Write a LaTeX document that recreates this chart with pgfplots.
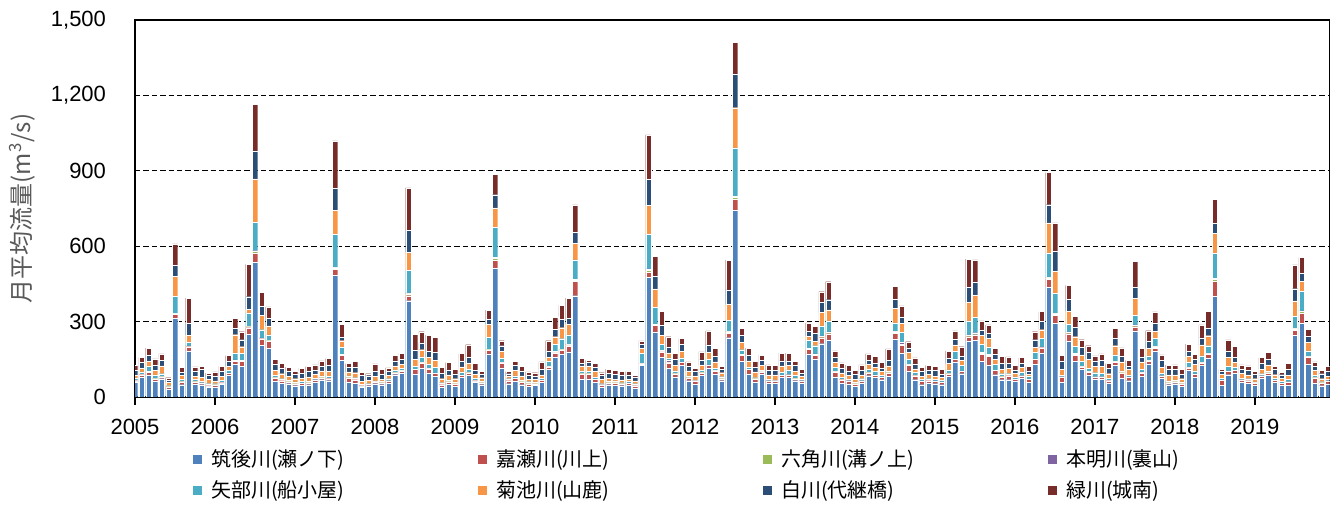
\documentclass[border=0pt]{standalone}
\usepackage{fontspec}
\setmainfont{Liberation Sans}
\newfontfamily\jp{Noto Sans CJK JP}
\usepackage{pgfplots}
\usepackage{pgfplotstable}
\pgfplotsset{compat=1.18}
\definecolor{cB}{HTML}{4F81BD}
\definecolor{cR}{HTML}{C0504D}
\definecolor{cG}{HTML}{9BBB59}
\definecolor{cP}{HTML}{8064A2}
\definecolor{cC}{HTML}{4BACC6}
\definecolor{cO}{HTML}{F79646}
\definecolor{cD}{HTML}{2C4D75}
\definecolor{cM}{HTML}{772C2A}
\definecolor{lblgray}{HTML}{595959}
\pgfplotstableread{
i B R G P C O D M
0 60 5 1 1 9 10 20 19
1 80 9 1 1 9 13 24 21
2 87 12 2 1 20 19 24 29
3 63 9 1 1 12 20 21 25
4 73 7 1 1 11 31 23 25
5 32 8 1 0 4 13 8 11
6 312 16 3 1 68 80 45 84
7 49 11 1 1 8 17 12 20
8 184 16 2 1 14 29 47 100
9 52 8 1 1 8 12 20 18
10 49 6 1 1 6 16 31 13
11 40 5 1 1 6 17 17 8
12 40 8 1 1 3 11 20 16
13 52 5 1 1 7 17 20 20
14 87 7 1 1 10 16 20 23
15 129 13 4 2 28 72 25 40
16 123 20 2 2 28 25 28 32
17 249 27 4 2 53 13 51 129
18 536 37 6 3 113 173 111 185
19 205 27 2 1 33 56 37 56
20 193 29 2 1 22 36 29 47
21 63 13 1 1 8 21 23 19
22 56 9 1 1 6 20 23 17
23 53 7 1 1 4 17 19 17
24 45 7 1 1 6 13 17 13
25 47 7 1 1 6 13 20 20
26 49 7 1 1 6 16 24 17
27 60 7 1 1 6 16 17 20
28 69 7 1 1 6 20 20 20
29 65 8 1 1 8 20 23 27
30 485 24 5 2 131 96 87 189
31 147 20 2 1 27 27 13 53
32 60 16 1 1 6 16 17 16
33 56 13 1 1 6 20 23 21
34 40 5 1 1 4 12 23 13
35 45 5 1 0 2 13 19 8
36 53 5 1 1 4 19 20 29
37 49 7 1 1 6 7 20 20
38 56 7 1 1 8 13 17 13
39 89 7 1 1 10 16 20 23
40 96 7 1 1 8 17 20 23
41 383 20 7 4 89 73 87 169
42 92 17 1 1 12 27 36 64
43 116 20 2 1 21 28 27 45
44 96 16 1 1 16 29 24 63
45 83 11 1 1 22 29 31 60
46 40 9 1 1 6 16 21 25
47 52 8 1 1 6 20 20 29
48 43 9 1 1 6 13 17 20
49 79 7 1 1 12 20 21 32
50 87 9 1 1 12 24 23 51
51 60 5 1 1 7 16 17 27
52 49 7 1 1 6 13 13 12
53 172 13 3 1 49 51 20 37
54 512 31 8 5 120 76 53 81
55 116 20 2 1 14 28 23 20
56 53 12 1 1 6 11 9 8
57 63 11 1 1 8 23 20 15
58 49 11 1 1 6 16 20 17
59 43 9 1 1 7 9 17 13
60 47 5 1 1 6 11 13 13
61 59 7 1 1 7 13 23 29
62 109 11 2 1 18 16 27 40
63 160 16 3 2 28 31 29 49
64 172 13 3 1 43 44 33 57
65 180 23 4 3 37 43 23 80
66 403 57 5 4 77 65 44 109
67 72 20 1 1 10 20 11 20
68 72 20 1 1 7 23 13 9
69 59 11 1 1 6 23 17 17
70 40 7 1 1 4 17 16 11
71 49 7 1 1 6 11 20 16
72 47 9 1 1 6 7 19 15
73 45 7 1 1 3 11 20 13
74 47 7 1 1 6 9 17 13
75 36 9 1 1 6 11 16 7
76 125 7 2 1 38 21 16 13
77 476 20 7 7 137 116 103 177
78 259 27 2 2 67 73 51 80
79 159 21 1 6 23 36 40 55
80 113 23 1 8 11 20 23 41
81 80 12 1 1 10 23 24 24
82 125 13 1 1 16 27 27 23
83 65 11 1 1 6 20 20 16
84 52 11 1 1 3 16 20 11
85 87 9 1 1 10 20 20 32
86 116 9 2 1 22 29 28 56
87 92 11 1 1 10 25 21 33
88 65 7 1 1 7 16 13 13
89 236 17 6 3 44 63 57 119
90 742 44 9 4 192 160 135 125
91 143 24 2 1 18 29 29 28
92 92 17 1 1 6 27 23 27
93 60 12 1 1 3 23 20 21
94 92 8 1 1 4 20 21 20
95 56 7 1 1 6 17 19 21
96 56 7 1 1 3 20 19 20
97 79 7 1 1 12 24 20 31
98 79 8 1 1 19 19 17 31
99 65 7 1 1 12 17 23 17
100 56 7 1 1 6 13 11 16
101 172 17 4 1 31 17 20 33
102 152 15 4 1 32 17 33 27
103 212 24 5 2 40 53 40 43
104 227 25 5 2 44 44 40 72
105 80 20 1 1 15 20 23 24
106 56 13 1 1 8 17 20 20
107 52 11 1 1 6 16 17 23
108 43 9 1 1 6 11 20 16
109 56 7 1 1 8 15 19 21
110 85 11 1 1 12 20 17 25
111 79 7 1 1 14 16 16 27
112 69 9 1 1 7 16 11 23
113 83 13 1 1 6 20 23 44
114 229 24 6 3 33 57 36 53
115 173 33 3 8 40 36 23 47
116 103 24 1 1 22 27 17 25
117 69 16 1 1 12 13 20 24
118 49 13 1 1 6 13 20 16
119 56 9 1 1 6 17 17 19
120 53 9 1 1 6 13 23 17
121 49 9 1 1 7 12 11 20
122 83 9 1 1 14 25 21 29
123 140 9 2 1 31 24 23 33
124 93 9 1 1 22 20 17 37
125 223 17 5 2 56 73 60 113
126 225 20 3 8 60 89 53 88
127 143 27 4 5 31 36 21 36
128 127 36 2 5 27 36 21 33
129 89 16 1 1 23 20 20 23
130 69 11 1 1 11 17 24 27
131 69 16 1 1 6 20 20 27
132 63 7 1 1 8 15 13 19
133 76 7 1 1 15 17 17 23
134 59 11 1 1 10 9 13 17
135 129 20 2 1 25 20 31 32
136 176 20 2 1 34 35 32 40
137 436 33 5 2 97 120 72 128
138 293 33 5 2 80 87 80 113
139 59 20 1 1 6 24 33 23
140 223 29 5 2 31 51 47 56
141 143 23 5 2 28 39 37 44
142 109 11 1 1 19 27 29 31
143 87 12 1 1 12 37 27 27
144 72 7 1 1 16 24 23 20
145 72 7 1 1 14 27 23 27
146 56 9 1 1 7 19 21 19
147 125 13 2 1 27 36 29 40
148 76 20 1 1 6 36 24 31
149 65 13 1 1 7 23 13 23
150 263 17 5 2 39 67 44 104
151 83 13 3 1 9 31 19 35
152 132 11 1 1 19 29 28 43
153 183 11 5 2 33 27 33 45
154 76 7 1 1 10 23 27 23
155 49 7 1 1 6 24 23 16
156 53 7 1 1 6 20 23 17
157 43 9 1 1 6 13 17 20
158 105 11 1 1 19 24 20 29
159 79 11 1 1 12 27 20 20
160 127 9 1 1 26 43 28 52
161 156 16 1 1 30 40 31 65
162 400 60 9 4 99 80 40 95
163 47 19 1 1 6 17 11 9
164 89 13 1 1 19 36 24 44
165 96 9 1 1 10 20 20 44
166 60 7 1 1 6 19 17 17
167 56 9 1 1 6 15 19 17
168 47 7 1 1 4 13 17 11
169 76 7 1 1 8 17 24 23
170 87 9 1 1 6 24 23 27
171 59 7 1 1 6 15 20 13
172 47 7 1 1 6 12 15 9
173 47 12 1 1 10 16 24 24
174 245 20 6 2 49 60 49 95
175 293 39 8 3 77 40 33 63
176 129 31 1 1 22 33 24 29
177 56 20 1 1 8 20 17 17
178 45 11 1 1 3 12 20 13
179 52 11 1 1 6 11 19 20
}\flow
\newcommand{\legtxt}[1]{\makebox[133.4bp][l]{\hspace*{2.5bp}#1}}
\begin{document}
\begin{tikzpicture}
\begin{axis}[
  at={(0,0)}, anchor=south west,
  scale only axis, width=597.3bp, height=188.5bp,
  ybar stacked, bar width=0.8,
  xmin=0, xmax=179.2, ymin=0, ymax=1500,
  axis line style={black, line width=0.8bp},
  ytick={0,300,600,900,1200,1500},
  ymajorgrids, major grid style={black, line width=0.6bp, dash pattern=on 2.7bp off 1.5bp},
  ytick style={draw=none},
  xtick={0,12,24,36,48,60,72,84,96,108,120,132,144,156,168},
  xticklabels={2005,2006,2007,2008,2009,2010,2011,2012,2013,2014,2015,2016,2017,2018,2019},
  xtick pos=bottom, xtick align=outside, major tick length=4bp,
  xtick style={black, line width=0.8bp},
  tick label style={font=\fontsize{11bp}{13bp}\selectfont, black},
  xticklabel style={yshift=-3.5bp},
  /pgf/number format/assume math mode=true,
  /pgf/number format/.cd, 1000 sep={,}, /pgfplots/.cd,
  yticklabel style={xshift=-11bp},
  every axis y label/.style={at={(axis description cs:-0.0944,0.5)}, rotate=90, anchor=center},
  ylabel={\jp\fontsize{12bp}{14bp}\selectfont\color{lblgray}月平均流量(m\textsuperscript{3}/s)},
  legend style={at={(axis description cs:0.0477,-0.1286)}, anchor=north west, draw=none, fill=none,
    inner sep=0pt, outer sep=0pt, legend columns=4, row sep=1.5bp,
    font=\jp\fontsize{10bp}{12bp}\selectfont,
    /tikz/every even column/.append style={column sep=0bp}},
  legend cell align=left,
  legend image code/.code={\fill[#1] (0bp,-2.5bp) rectangle (5bp,2.5bp);},
  every axis plot/.append style={draw=white, line width=0.12bp},
]
\addplot[fill=cB] table[x=i,y=B]{\flow};
\addplot[fill=cR] table[x=i,y=R]{\flow};
\addplot[fill=cG] table[x=i,y=G]{\flow};
\addplot[fill=cP] table[x=i,y=P]{\flow};
\addplot[fill=cC] table[x=i,y=C]{\flow};
\addplot[fill=cO] table[x=i,y=O]{\flow};
\addplot[fill=cD] table[x=i,y=D]{\flow};
\addplot[fill=cM] table[x=i,y=M]{\flow};
\legend{\legtxt{筑後川(瀬ノ下)},\legtxt{嘉瀬川(川上)},\legtxt{六角川(溝ノ上)},\legtxt{本明川(裏山)},
\legtxt{矢部川(船小屋)},\legtxt{菊池川(山鹿)},\legtxt{白川(代継橋)},\legtxt{緑川(城南)}}
\end{axis}
\pgfresetboundingbox
\useasboundingbox (-67.5bp,-56.5bp) rectangle (601.5bp,198.5bp);
\end{tikzpicture}
\end{document}
